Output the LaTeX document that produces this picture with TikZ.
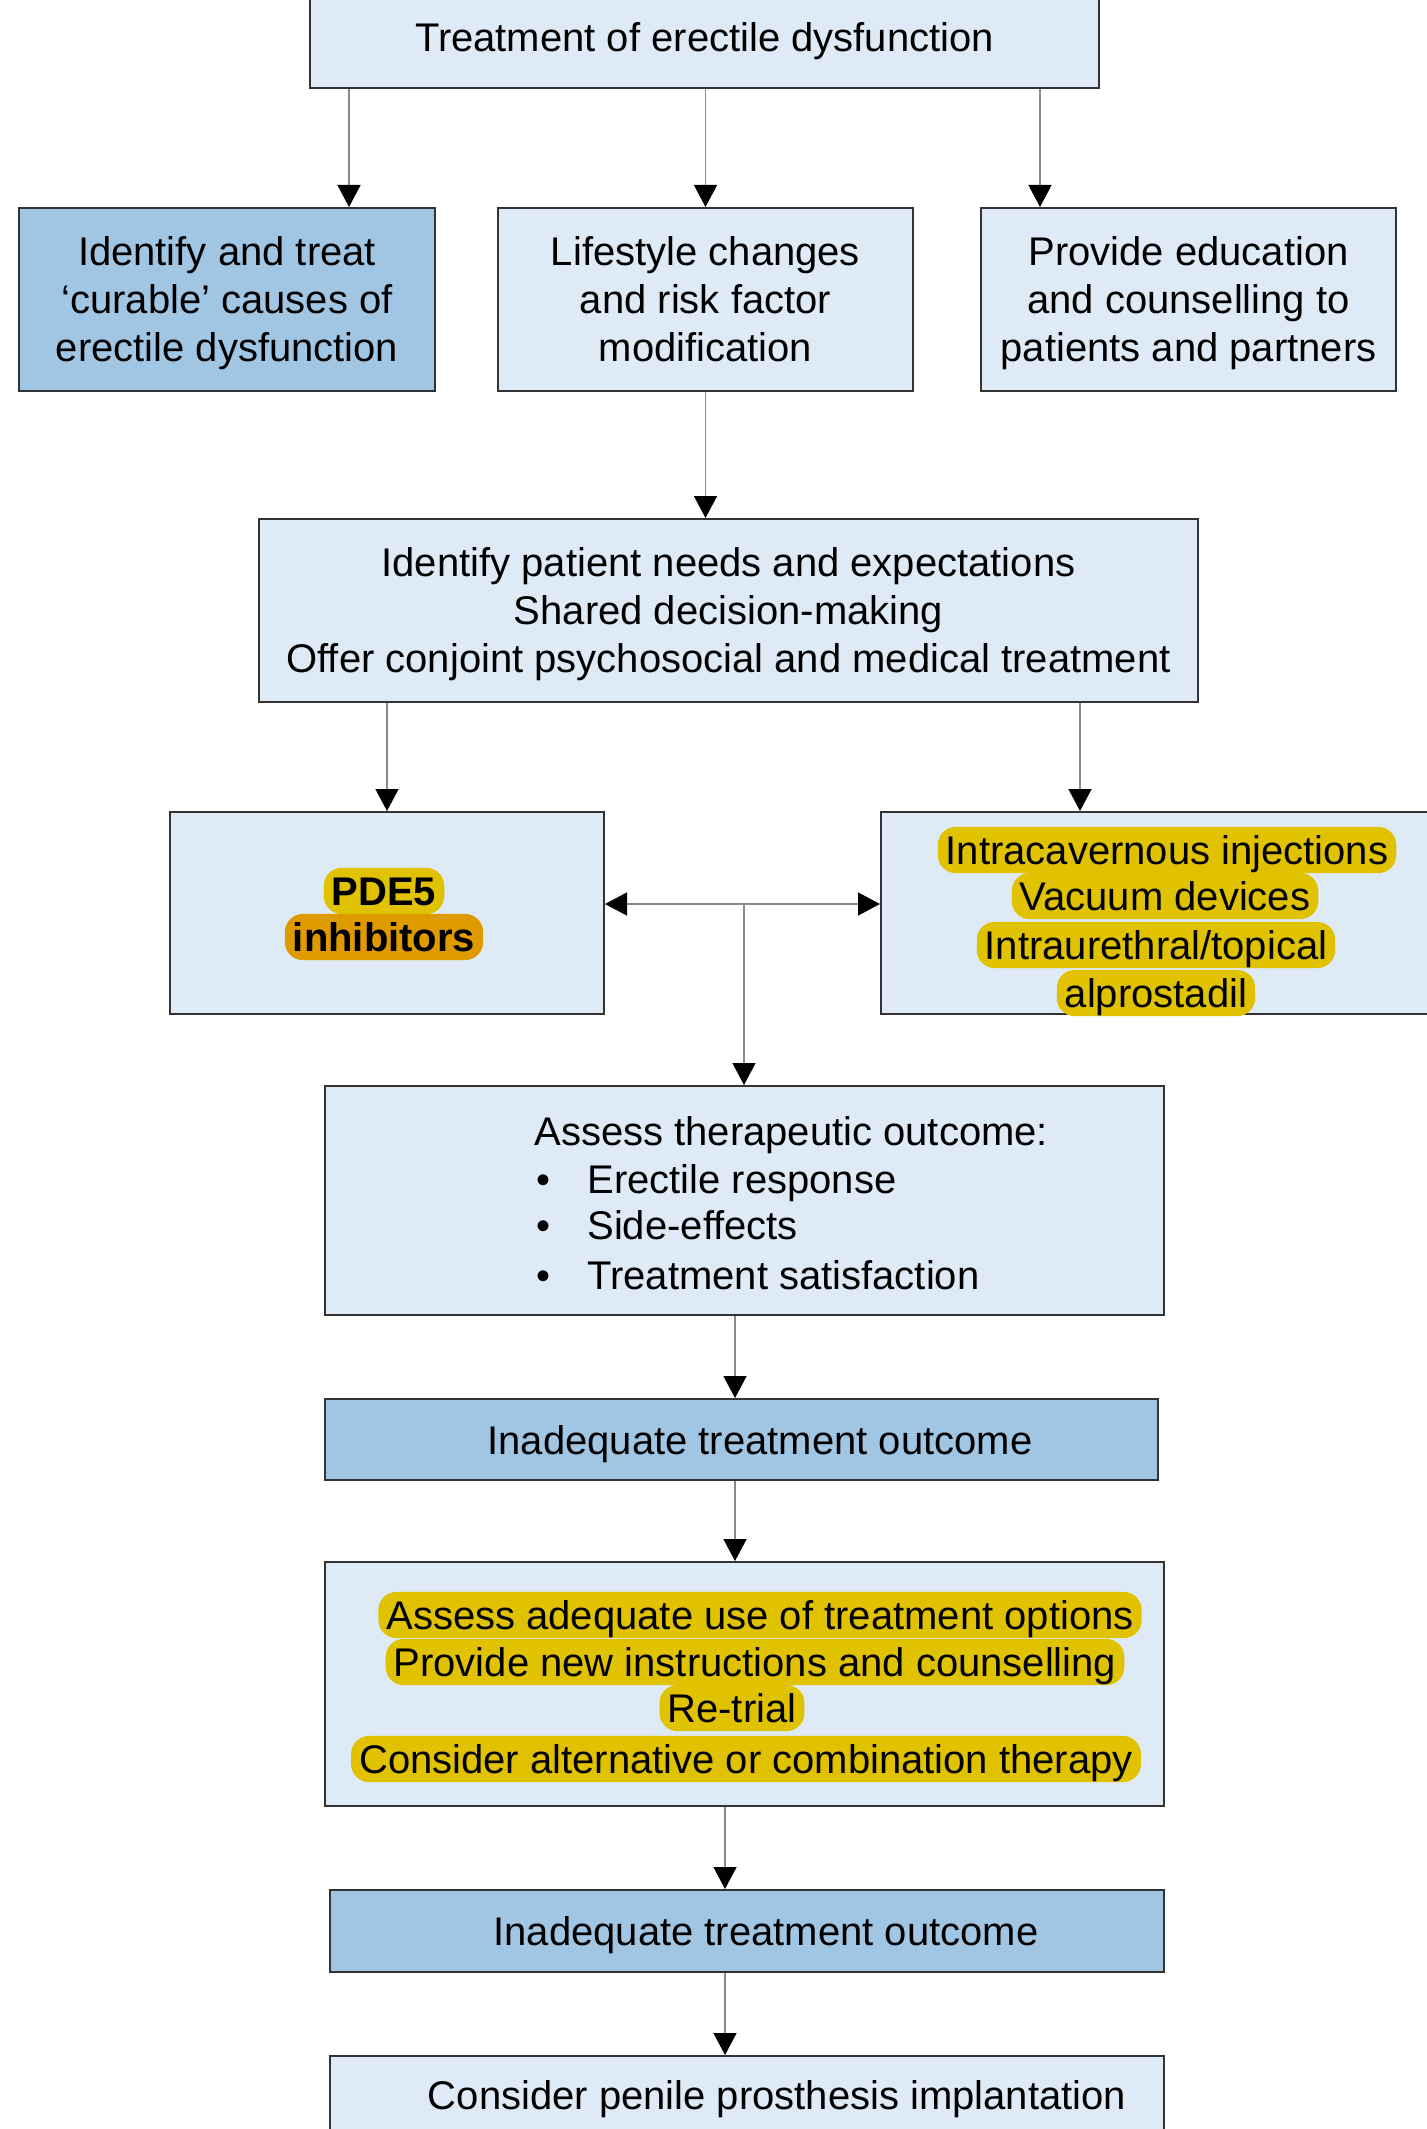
\documentclass[tikz,border=0pt]{standalone}
\usepackage{fontspec}
\setmainfont{Liberation Sans}
\usetikzlibrary{arrows.meta,calc}
\definecolor{lightbox}{HTML}{DEEAF6}
\definecolor{darkbox}{HTML}{A0C6E4}
\definecolor{hlyellow}{HTML}{E0C200}
\definecolor{hlorange}{HTML}{DF9A00}
\definecolor{linegray}{HTML}{8A8A8A}
\newcommand\boxstrut{\rule[-5.4pt]{0pt}{25.4pt}}
\tikzset{
  box/.style={draw=black!80, line width=1pt, fill=lightbox, inner sep=0pt, align=center,
    font=\fontsize{20}{24}\selectfont,
    execute at begin node=\boxstrut, execute at end node=\boxstrut},
  darkfill/.style={fill=darkbox},
  boxtext/.style={inner sep=0pt, align=center, font=\fontsize{20}{24}\selectfont, yshift=-2.6pt,
    execute at begin node=\boxstrut, execute at end node=\boxstrut},
  lbl/.style={inner sep=0pt, text height=16.75pt, text depth=2.75pt, font=\fontsize{20}{24}\selectfont},
  hl/.style={fill=hlyellow, rounded corners=9pt, inner xsep=4pt, inner ysep=1.8pt,
    text height=16.75pt, text depth=2.75pt, font=\fontsize{20}{24}\selectfont},
  hlbold/.style={hl, font=\fontsize{20}{24}\selectfont\bfseries},
  tipa/.tip={Triangle[length=11pt,width=11.5pt,color=black]},
  conn/.style={draw=linegray, line width=0.7pt, -tipa},
  dconn/.style={draw=linegray, line width=0.7pt, tipa-tipa},
}
\begin{document}
\begin{tikzpicture}[x=0.5pt,y=-0.5pt]
\useasboundingbox (0,0) rectangle (1426,2129);
\fill[white] (0,0) rectangle (1426,2129);

% top
\node[box, minimum width=394.5pt, minimum height=51pt] (top) at (704.5,37) {Treatment of erectile dysfunction};

% second row
\node[box, darkfill, minimum width=208pt, minimum height=91.5pt] (A) at (227,299.5) {};
\node[boxtext] (At) at (A) {Identify and treat\\‘curable’ causes of\\erectile dysfunction};
\node[box, minimum width=207.5pt, minimum height=91.5pt] (B) at (705.5,299.5) {};
\node[boxtext] (Bt) at (B) {Lifestyle changes\\and risk factor\\modification};
\node[box, minimum width=207.5pt, minimum height=91.5pt] (C) at (1188.5,299.5) {};
\node[boxtext] (Ct) at (C) {Provide education\\and counselling to\\patients and partners};

% needs
\node[box, minimum width=469.5pt, minimum height=91.5pt] (D) at (728.5,610.5) {};
\node[boxtext] (Dt) at (D) {Identify patient needs and expectations\\Shared decision-making\\Offer conjoint psychosocial and medical treatment};

% PDE5
\node[box, minimum width=217pt, minimum height=101pt] (P) at (387,913) {};
\node[hlbold] (p1) at (384,891) {PDE5};
\node[hlbold, fill=hlorange] (p2) at (384,937) {inhibitors};

% other options
\node[box, minimum width=284.5pt, minimum height=101pt] (R) at (1165.5,913) {};
\node[hl] (r1) at (1167,850) {Intracavernous injections};
\node[hl] (r2) at (1165,896) {Vacuum devices};
\node[hl] (r3) at (1156,945) {Intraurethral/topical};
\node[hl] (r4) at (1156,993) {alprostadil};

% assess outcome
\node[box, minimum width=419.5pt, minimum height=114.5pt] (S) at (744.5,1200.5) {};
\node[lbl, anchor=west] (s0) at (534,1131) {Assess therapeutic outcome:};
\node[lbl] (b1) at (543,1179) {•};
\node[lbl] (b2) at (543,1225) {•};
\node[lbl] (b3) at (543,1275) {•};
\node[lbl, anchor=west] (s1) at (587,1179) {Erectile response};
\node[lbl, anchor=west] (s2) at (587,1225) {Side-effects};
\node[lbl, anchor=west] (s3) at (587,1275) {Treatment satisfaction};

% inadequate 1
\node[box, darkfill, minimum width=416.5pt, minimum height=40.5pt] (I1) at (741.5,1439.5) {};
\node[lbl] (i1t) at (760,1440) {Inadequate treatment outcome};

% assess adequate use
\node[box, minimum width=419.5pt, minimum height=122pt] (Q) at (744.5,1684) {};
\node[hl] (q1) at (760,1615) {Assess adequate use of treatment options};
\node[hl] (q2) at (755,1662) {Provide new instructions and counselling};
\node[hl] (q3) at (732,1708) {Re-trial};
\node[hl] (q4) at (746,1759) {Consider alternative or combination therapy};

% inadequate 2
\node[box, darkfill, minimum width=417pt, minimum height=41pt] (I2) at (747,1931) {};
\node[lbl] (i2t) at (766,1931) {Inadequate treatment outcome};

% last
\node[box, minimum width=417pt, minimum height=47pt] (L) at (747,2103) {};
\node[lbl] (lt) at (777,2095) {Consider penile prosthesis implantation};

% helper coordinates for connector x positions
\coordinate (xa) at (349,0);
\coordinate (xc) at (1040,0);
\coordinate (xr) at (1080,0);
\coordinate (mid) at (744,904);
\coordinate (xs) at (735,0);
\coordinate (xq) at (725,0);

\draw[conn] (top.south -| xa) -- (A.north -| xa);
\draw[conn] (top.south -| B.north) -- (B.north);
\draw[conn] (top.south -| xc) -- (C.north -| xc);
\draw[conn] (B.south) -- (B.south |- D.north);
\draw[conn] (D.south -| P.north) -- (P.north);
\draw[conn] (D.south -| xr) -- (R.north -| xr);
\draw[dconn] (P.east |- mid) -- (R.west |- mid);
\draw[conn] (mid) -- (S.north -| mid);
\draw[conn] (S.south -| xs) -- (I1.north -| xs);
\draw[conn] (I1.south -| xs) -- (Q.north -| xs);
\draw[conn] (Q.south -| xq) -- (I2.north -| xq);
\draw[conn] (I2.south -| xq) -- (L.north -| xq);
\end{tikzpicture}
\end{document}
